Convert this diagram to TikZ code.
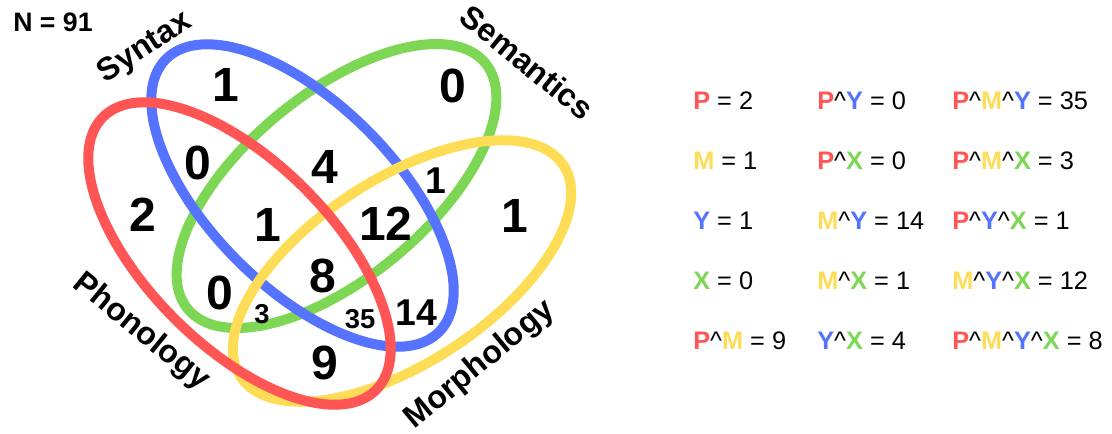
\documentclass[tikz,border=0pt]{standalone}
\usepackage{fontspec}
\setmainfont{Liberation Sans}
\usetikzlibrary{shapes.geometric}
\definecolor{cP}{RGB}{255,85,85}
\definecolor{cY}{RGB}{85,115,255}
\definecolor{cX}{RGB}{125,215,85}
\definecolor{cM}{RGB}{255,220,85}
\newcommand\LgP{\textcolor{cP}{\textbf{P}}}
\newcommand\LgM{\textcolor{cM}{\textbf{M}}}
\newcommand\LgY{\textcolor{cY}{\textbf{Y}}}
\newcommand\LgX{\textcolor{cX}{\textbf{X}}}
\newcommand\Hc{\textasciicircum}
\begin{document}
\begin{tikzpicture}[x=0.75pt,y=-0.75pt,
  setshape/.style={draw, ellipse, line width=7.5pt, minimum width=289.5pt, minimum height=138pt, inner sep=0pt, fill=none},
  big/.style={font=\fontsize{36}{36}\selectfont\bfseries, inner sep=0pt},
  mid/.style={font=\fontsize{28}{28}\selectfont\bfseries, inner sep=0pt},
  small/.style={font=\fontsize{20.5}{20.5}\selectfont\bfseries, inner sep=0pt},
  setlabel/.style={font=\fontsize{24}{24}\selectfont\bfseries, inner sep=0pt},
  legend/.style={font=\fontsize{19}{19}\selectfont, inner sep=0pt, anchor=base west}]
\useasboundingbox (0,0) rectangle (1112,433);
% sets
\node[setshape, draw=cX, rotate=39.6] (X) at (336.5,186) {};
\node[setshape, draw=cY, rotate=-45] (Y) at (302.5,195.5) {};
\node[setshape, draw=cM, rotate=33.2] (M) at (402,271) {};
\node[setshape, draw=cP, rotate=-45] (P) at (239.5,253.5) {};
% set labels
\node[setlabel, rotate=33] (lY) at (145,48) {Syntax};
\node[setlabel, rotate=-39] (lX) at (527,62) {Semantics};
\node[setlabel, rotate=-39] (lP) at (141,332) {Phonology};
\node[setlabel, rotate=39.5] (lM) at (480,365) {Morphology};
\node[font=\fontsize{20}{20}\selectfont\bfseries, inner sep=0pt] (N) at (53,22) {N = 91};
% region counts
\node[big] (nY) at (226,85) {1};
\node[big] (nX) at (453,86) {0};
\node[big] (nPY) at (198,163) {0};
\node[big] (nP) at (143,215) {2};
\node[big] (nYX) at (325,167) {4};
\node[big] (nPYX) at (268,225) {1};
\node[big] (nMYX) at (386,224) {12};
\node[big] (nM) at (515,216) {1};
\node[big] (nPX) at (220,293) {0};
\node[big] (nPMYX) at (323,276) {8};
\node[big] (nPM) at (325,363) {9};
\node[mid] (nMX) at (436,181) {1};
\node[mid] (nMY) at (416,313) {14};
\node[small] (nPMX) at (262,314) {3};
\node[small] (nPMY) at (360,319) {35};
% legend
\node[legend] (a1) at (693,109) {\LgP{} = 2};
\node[legend] (a2) at (693,169) {\LgM{} = 1};
\node[legend] (a3) at (693,229) {\LgY{} = 1};
\node[legend] (a4) at (693,289) {\LgX{} = 0};
\node[legend] (a5) at (693,349) {\LgP\Hc\LgM{} = 9};
\node[legend] (b1) at (817,109) {\LgP\Hc\LgY{} = 0};
\node[legend] (b2) at (817,169) {\LgP\Hc\LgX{} = 0};
\node[legend] (b3) at (817,229) {\LgM\Hc\LgY{} = 14};
\node[legend] (b4) at (817,289) {\LgM\Hc\LgX{} = 1};
\node[legend] (b5) at (817,349) {\LgY\Hc\LgX{} = 4};
\node[legend] (c1) at (952,109) {\LgP\Hc\LgM\Hc\LgY{} = 35};
\node[legend] (c2) at (952,169) {\LgP\Hc\LgM\Hc\LgX{} = 3};
\node[legend] (c3) at (952,229) {\LgP\Hc\LgY\Hc\LgX{} = 1};
\node[legend] (c4) at (952,289) {\LgM\Hc\LgY\Hc\LgX{} = 12};
\node[legend] (c5) at (952,349) {\LgP\Hc\LgM\Hc\LgY\Hc\LgX{} = 8};
\end{tikzpicture}
\end{document}
